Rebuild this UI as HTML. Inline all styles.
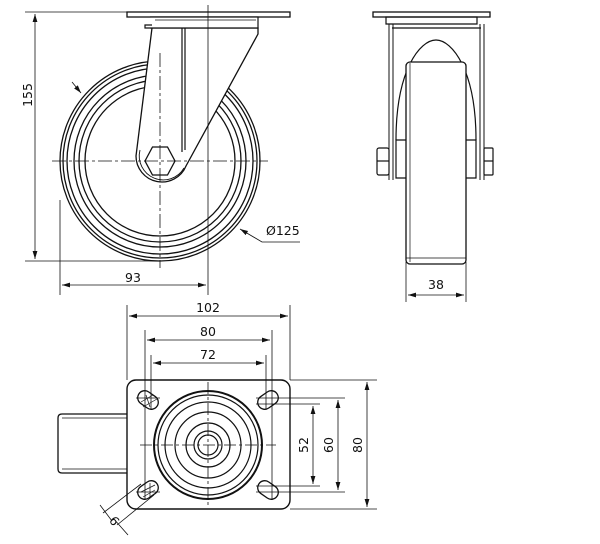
<!DOCTYPE html>
<html><head><style>
html,body{margin:0;padding:0;background:#fff;}
svg{display:block;}
text{font-family:"DejaVu Sans","Liberation Sans",sans-serif;font-size:12.5px;fill:#111;}
</style></head><body>
<svg width="600" height="544" viewBox="0 0 600 544" xmlns="http://www.w3.org/2000/svg">
<defs>
<marker id="a" viewBox="0 0 10 6" refX="10" refY="3" markerWidth="8" markerHeight="5" orient="auto-start-reverse" markerUnits="userSpaceOnUse"><path d="M0,0L10,3L0,6z" fill="#111"/></marker>
</defs>
<g stroke="#111" fill="none" stroke-width="1.2">
<!-- ===== Side view ===== -->
<g stroke-width="1.3">
<circle cx="160" cy="161" r="100"/>
<circle cx="160" cy="161" r="97"/>
<circle cx="160" cy="161" r="93"/>
<circle cx="160" cy="161" r="86"/>
<circle cx="160" cy="161" r="81"/>
<circle cx="160" cy="161" r="75"/>
</g>
<path d="M150,28 L258,28 L258,34 L186,166 A26,26 0 0 1 136,156 L152,28 Z" fill="#fff" stroke-width="1.3"/>
<path d="M140,150 A24,24 0 0 0 184,168" stroke-width="0.9"/>
<line x1="182" y1="28" x2="182" y2="152"/>
<line x1="185" y1="28" x2="185" y2="150"/>
<rect x="127" y="12" width="163" height="5" fill="#fff" stroke-width="1.3"/>
<path d="M150,17 L258,17 L258,28 L145,28 L145,25 L152,25" fill="#fff"/>
<line x1="155" y1="20" x2="256" y2="20" stroke-width="0.8"/>
<polygon points="145,161 152.5,147 167.5,147 175,161 167.5,175 152.5,175" fill="#fff" stroke-width="1.3"/>
<g stroke-width="0.8" stroke-dasharray="14,3,3,3">
<line x1="52" y1="161" x2="268" y2="161"/>
<line x1="160" y1="53" x2="160" y2="268"/>
</g>
<line x1="208" y1="5" x2="208" y2="295" stroke-width="0.8"/>
<g stroke-width="0.8">
<line x1="25" y1="12" x2="127" y2="12"/>
<line x1="25" y1="261" x2="160" y2="261"/>
<line x1="35" y1="14" x2="35" y2="259" marker-start="url(#a)" marker-end="url(#a)"/>
<line x1="60" y1="200" x2="60" y2="295"/>
<line x1="62" y1="285" x2="206" y2="285" marker-start="url(#a)" marker-end="url(#a)"/>
<line x1="72" y1="82" x2="81" y2="93" marker-end="url(#a)"/>
<polyline points="300,242 262,242 240,229" marker-end="url(#a)"/>
</g>
</g>
<text transform="translate(32,95) rotate(-90)" text-anchor="middle">155</text>
<text x="133" y="282" text-anchor="middle">93</text>
<text x="266" y="235">Ø125</text>

<!-- ===== Front view ===== -->
<g stroke="#111" fill="none" stroke-width="1.2">
<rect x="373" y="12" width="117" height="5" fill="#fff" stroke-width="1.3"/>
<path d="M386,17 L477,17 L477,24 L386,24 Z"/>
<path d="M389,24 L389,180 M393,24 L393,180 M484,24 L484,180 M480,24 L480,180" stroke-width="1"/>
<path d="M392,28 L481,28"/>
<path d="M396,140 C396,70 420,40 436,40 C452,40 476,70 476,140"/>
<path d="M406,140 L396,140 L396,178 L406,178 M466,140 L476,140 L476,178 L466,178"/>
<rect x="406" y="62" width="60" height="202" rx="4" fill="#fff" stroke-width="1.3"/>
<path d="M410,63 L410,262 M406,258 L466,258" stroke-width="0.7"/>
<rect x="377" y="148" width="12" height="27" rx="2"/>
<line x1="377" y1="161" x2="389" y2="161"/>
<rect x="484" y="148" width="9" height="27" rx="1"/>
<line x1="484" y1="161" x2="493" y2="161"/>
<g stroke-width="0.8">
<line x1="406" y1="262" x2="406" y2="302"/>
<line x1="466" y1="262" x2="466" y2="302"/>
<line x1="408" y1="295" x2="464" y2="295" marker-start="url(#a)" marker-end="url(#a)"/>
</g>
</g>
<text x="436" y="289" text-anchor="middle">38</text>

<!-- ===== Bottom view ===== -->
<g stroke="#111" fill="none" stroke-width="1.2">
<path d="M127,414 L62,414 Q58,414 58,418 L58,469 Q58,473 62,473 L127,473" stroke-width="1.3"/>
<line x1="62" y1="418" x2="127" y2="418" stroke-width="0.8"/>
<line x1="62" y1="469" x2="127" y2="469" stroke-width="0.8"/>
<rect x="127" y="380" width="163" height="129" rx="9" fill="#fff" stroke-width="1.4"/>
<circle cx="208" cy="445" r="54" stroke-width="2"/>
<circle cx="208" cy="445" r="50"/>
<circle cx="208" cy="445" r="43"/>
<circle cx="208" cy="445" r="33"/>
<circle cx="208" cy="445" r="22"/>
<circle cx="208" cy="445" r="14"/>
<circle cx="208" cy="445" r="10"/>
<g stroke-width="1.3">
<rect x="-11" y="-7" width="22" height="14" rx="7" transform="translate(148,400) rotate(35)"/>
<rect x="-11" y="-7" width="22" height="14" rx="7" transform="translate(268,400) rotate(-35)"/>
<rect x="-11" y="-7" width="22" height="14" rx="7" transform="translate(148,490) rotate(-35)"/>
<rect x="-11" y="-7" width="22" height="14" rx="7" transform="translate(268,490) rotate(35)"/>
</g>
<g stroke-width="0.7">
<path d="M141,402 L153,395 M143,407 L157,399 M146,395 L150,407"/>
<path d="M141,492 L155,485 M143,497 L155,490 M150,483 L150,497"/>
</g>
<g stroke-width="0.8" stroke-dasharray="12,3,3,3">
<line x1="140" y1="445" x2="276" y2="445"/>
<line x1="208" y1="382" x2="208" y2="508"/>
</g>
<g stroke-width="0.8">
<line x1="136" y1="398" x2="160" y2="398"/>
<line x1="256" y1="398" x2="345" y2="398"/>
<line x1="136" y1="492" x2="160" y2="492"/>
<line x1="256" y1="492" x2="345" y2="492"/>
<line x1="256" y1="404" x2="320" y2="404"/>
<line x1="256" y1="486" x2="320" y2="486"/>
<line x1="290" y1="380" x2="377" y2="380"/>
<line x1="290" y1="509" x2="377" y2="509"/>
<line x1="151" y1="355" x2="151" y2="410"/>
<line x1="266" y1="355" x2="266" y2="410"/>
<line x1="145" y1="330" x2="145" y2="500"/>
<line x1="272" y1="330" x2="272" y2="500"/>
<line x1="127" y1="305" x2="127" y2="380"/>
<line x1="290" y1="305" x2="290" y2="380"/>
<line x1="129" y1="316" x2="288" y2="316" marker-start="url(#a)" marker-end="url(#a)"/>
<line x1="147" y1="340" x2="270" y2="340" marker-start="url(#a)" marker-end="url(#a)"/>
<line x1="153" y1="363" x2="264" y2="363" marker-start="url(#a)" marker-end="url(#a)"/>
<line x1="367" y1="382" x2="367" y2="507" marker-start="url(#a)" marker-end="url(#a)"/>
<line x1="338" y1="400" x2="338" y2="490" marker-start="url(#a)" marker-end="url(#a)"/>
<line x1="313" y1="406" x2="313" y2="484" marker-start="url(#a)" marker-end="url(#a)"/>
<line x1="141" y1="484" x2="103" y2="513"/>
<line x1="154" y1="495" x2="117" y2="525"/>
<line x1="100" y1="505" x2="112" y2="521"/>
<line x1="113" y1="518" x2="128" y2="535"/>
</g>
</g>
<text x="208" y="312" text-anchor="middle">102</text>
<text x="208" y="336" text-anchor="middle">80</text>
<text x="208" y="359" text-anchor="middle">72</text>
<text transform="translate(362,445) rotate(-90)" text-anchor="middle">80</text>
<text transform="translate(333,445) rotate(-90)" text-anchor="middle">60</text>
<text transform="translate(308,445) rotate(-90)" text-anchor="middle">52</text>
<text transform="translate(118,518) rotate(-130)" text-anchor="middle">9</text>
</svg>
</body></html>
